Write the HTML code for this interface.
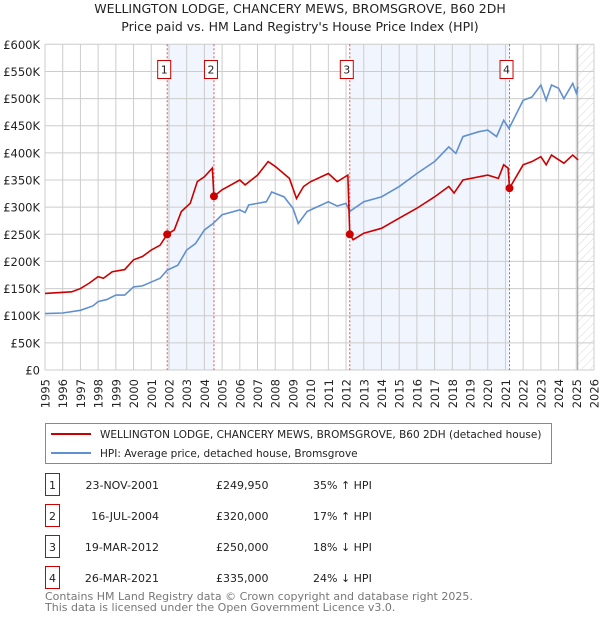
<!DOCTYPE html>
<html><head><meta charset="utf-8">
<style>
body{margin:0;background:#fff;font-family:"DejaVu Sans","Liberation Sans",sans-serif;}
svg text{font-family:"DejaVu Sans","Liberation Sans",sans-serif;}
</style></head>
<body>
<svg id="chart" width="600" height="620" viewBox="0 0 600 620" xmlns="http://www.w3.org/2000/svg">
<defs>
<pattern id="hatch" width="6" height="6" patternUnits="userSpaceOnUse" patternTransform="rotate(45)">
<line x1="0" y1="0" x2="0" y2="6" stroke="#d8d8d8" stroke-width="1"/>
</pattern>
</defs>
<text x="300" y="13" text-anchor="middle" font-size="12.5" fill="#222">WELLINGTON LODGE, CHANCERY MEWS, BROMSGROVE, B60 2DH</text>
<text x="300" y="31" text-anchor="middle" font-size="12.5" fill="#222">Price paid vs. HM Land Registry's House Price Index (HPI)</text>
<g id="plot"></g>
<g>
<rect x="45.5" y="423.5" width="506" height="40" fill="#fff" stroke="#888"/>
<line x1="51" y1="434" x2="91" y2="434" stroke="#cc0000" stroke-width="2"/>
<text x="100" y="438" font-size="10.5" fill="#222">WELLINGTON LODGE, CHANCERY MEWS, BROMSGROVE, B60 2DH (detached house)</text>
<line x1="51" y1="453" x2="91" y2="453" stroke="#6090d0" stroke-width="2"/>
<text x="100" y="457" font-size="10.5" fill="#222">HPI: Average price, detached house, Bromsgrove</text>
</g>
<g id="table"></g>
<text x="45" y="600" font-size="11" fill="#777">Contains HM Land Registry data © Crown copyright and database right 2025.</text>
<text x="45" y="611" font-size="11" fill="#777">This data is licensed under the Open Government Licence v3.0.</text>
</svg>
<script>
const hpiYears=[1995,1996,1997,1997.7,1998,1998.5,1999,1999.5,2000,2000.5,2001,2001.5,2001.9,2002.5,2003,2003.5,2004,2004.5,2005,2006,2006.3,2006.5,2007,2007.5,2007.8,2008.5,2009,2009.3,2009.8,2010,2011,2011.5,2012,2012.2,2013,2014,2015,2016,2017,2017.8,2018.2,2018.6,2019.5,2020,2020.5,2020.9,2021.2,2022,2022.5,2023,2023.3,2023.6,2024,2024.3,2024.8,2025,2025.1];
const hpiValues=[104,105,110,118,126,130,138,138,153,155,162,169,184,193,221,233,258,270,286,295,290,304,307,310,328,319,298,270,292,295,310,302,307,292,310,319,338,362,384,411,399,430,439,442,430,460,445,497,503,525,497,525,519,500,528,510,522];
const paidYears=[1995,1996.5,1997,1997.5,1998,1998.3,1998.8,1999.5,2000,2000.5,2001,2001.5,2001.9,2002.3,2002.7,2003.2,2003.6,2004,2004.45,2004.54,2005,2006,2006.3,2007,2007.6,2008,2008.8,2009.2,2009.6,2010,2011,2011.5,2012.1,2012.21,2012.4,2013,2014,2014.8,2016,2017,2017.8,2018.1,2018.6,2020,2020.6,2020.9,2021.15,2021.23,2022,2022.5,2023,2023.3,2023.6,2024.3,2024.8,2025.1];
const paidValues=[141,144,150,160,172,169,181,185,203,209,221,230,250,258,292,307,347,356,372,320,332,350,341,359,384,375,353,316,338,347,362,347,359,250,240,252,261,276,298,319,338,326,350,359,353,378,372,335,378,384,393,378,396,381,396,387];
const saleYears=[2001.9,2004.54,2012.21,2021.23];
const saleValues=[249.95,320,250,335];
const saleLabels=["1","2","3","4"];
const saleDates=["23-NOV-2001","16-JUL-2004","19-MAR-2012","26-MAR-2021"];
const salePrices=["£249,950","£320,000","£250,000","£335,000"];
const saleHpi=["35% ↑ HPI","17% ↑ HPI","18% ↓ HPI","24% ↓ HPI"];
const yTicks=[0,50,100,150,200,250,300,350,400,450,500,550,600];
const yTickLabels=["£0","£50K","£100K","£150K","£200K","£250K","£300K","£350K","£400K","£450K","£500K","£550K","£600K"];
const xTicks=[1995,1996,1997,1998,1999,2000,2001,2002,2003,2004,2005,2006,2007,2008,2009,2010,2011,2012,2013,2014,2015,2016,2017,2018,2019,2020,2021,2022,2023,2024,2025,2026];

const X0=45,X1=594,Y0=370,Y1=44.3;
const x=y=>X0+(y-1995)/(2026-1995)*(X1-X0);
const yv=v=>Y0-v/600*(Y0-Y1);
const NS="http://www.w3.org/2000/svg";
const plot=document.getElementById('plot');
function mk(tag,attrs,parent){const e=document.createElementNS(NS,tag);for(const k in attrs)e.setAttribute(k,attrs[k]);(parent||plot).appendChild(e);return e;}

for(const [a,b] of [[0,1],[2,3]]){
  const r=mk('rect',{x:x(saleYears[a]),y:Y1,width:x(saleYears[b])-x(saleYears[a]),height:Y0-Y1,fill:'#eef3fc',opacity:0.8});
  
  
}
const hx=x(2025.08);
const h=mk('rect',{x:hx,y:Y1,width:X1-hx,height:Y0-Y1,fill:'url(#hatch)'});


xTicks.forEach((t,i)=>{
  const l=mk('line',{x1:x(t),x2:x(t),y1:Y1,y2:Y0,stroke:'#ccc','stroke-width':1});
  
  
  const tx=mk('text',{x:0,y:0,transform:`translate(${x(t)+4.5},379) rotate(-90)`,'text-anchor':'end','font-size':11.5,fill:'#222'});
  tx.textContent=t;
  
  
});
yTicks.forEach((t,i)=>{
  const l=mk('line',{x1:X0,x2:X1,y1:yv(t),y2:yv(t),stroke:'#ccc','stroke-width':1});
  
  
  const tx=mk('text',{x:40,y:yv(t)+4.5,'text-anchor':'end','font-size':11.5,fill:'#222'});
  tx.textContent=yTickLabels[i];
  
  
});
const vl=mk('line',{x1:hx,x2:hx,y1:Y1,y2:Y0,stroke:'#999','stroke-width':1});


saleYears.forEach((s,i)=>{
  const l=mk('line',{x1:x(s),x2:x(s),y1:Y1,y2:Y0,stroke:'#e05050','stroke-width':1,'stroke-dasharray':'2,2'});
  
  
});
const hp=mk('polyline',{points:hpiYears.map((t,i)=>x(t)+','+yv(hpiValues[i])).join(' '),fill:'none',stroke:'#6090d0','stroke-width':1.6});


const pp=mk('polyline',{points:paidYears.map((t,i)=>x(t)+','+yv(paidValues[i])).join(' '),fill:'none',stroke:'#cc0000','stroke-width':1.6});


saleYears.forEach((s,i)=>{
  const c=mk('circle',{cx:x(s),cy:yv(saleValues[i]),r:4,fill:'#cc0000'});
  
  
  const b=mk('rect',{x:x(s)-9.5,y:60.5,width:13,height:18,fill:'#fff',stroke:'#cc0000'});
  
  
  const t=mk('text',{x:x(s)-3,y:73.5,'text-anchor':'middle','font-size':11,fill:'#222'});
  t.textContent=saleLabels[i];
  
  
});
const tb=document.getElementById('table');
const rowY=[485,516,547,578];
saleLabels.forEach((l,i)=>{
  const cy=rowY[i];
  const r=mk('rect',{x:45.5,y:cy-11.5,width:14,height:22,fill:'#fff',stroke:'#cc0000'},tb);
  
  
  const cells=[[52.5,'middle',l],[159,'end',saleDates[i]],[216,'start',salePrices[i]],[313,'start',saleHpi[i]]];
  cells.forEach(c=>{
    const t=mk('text',{x:c[0],y:cy+4,'text-anchor':c[1],'font-size':11,fill:'#222'},tb);
    t.textContent=c[2];
    
    
  });
});
</script>
</body></html>
